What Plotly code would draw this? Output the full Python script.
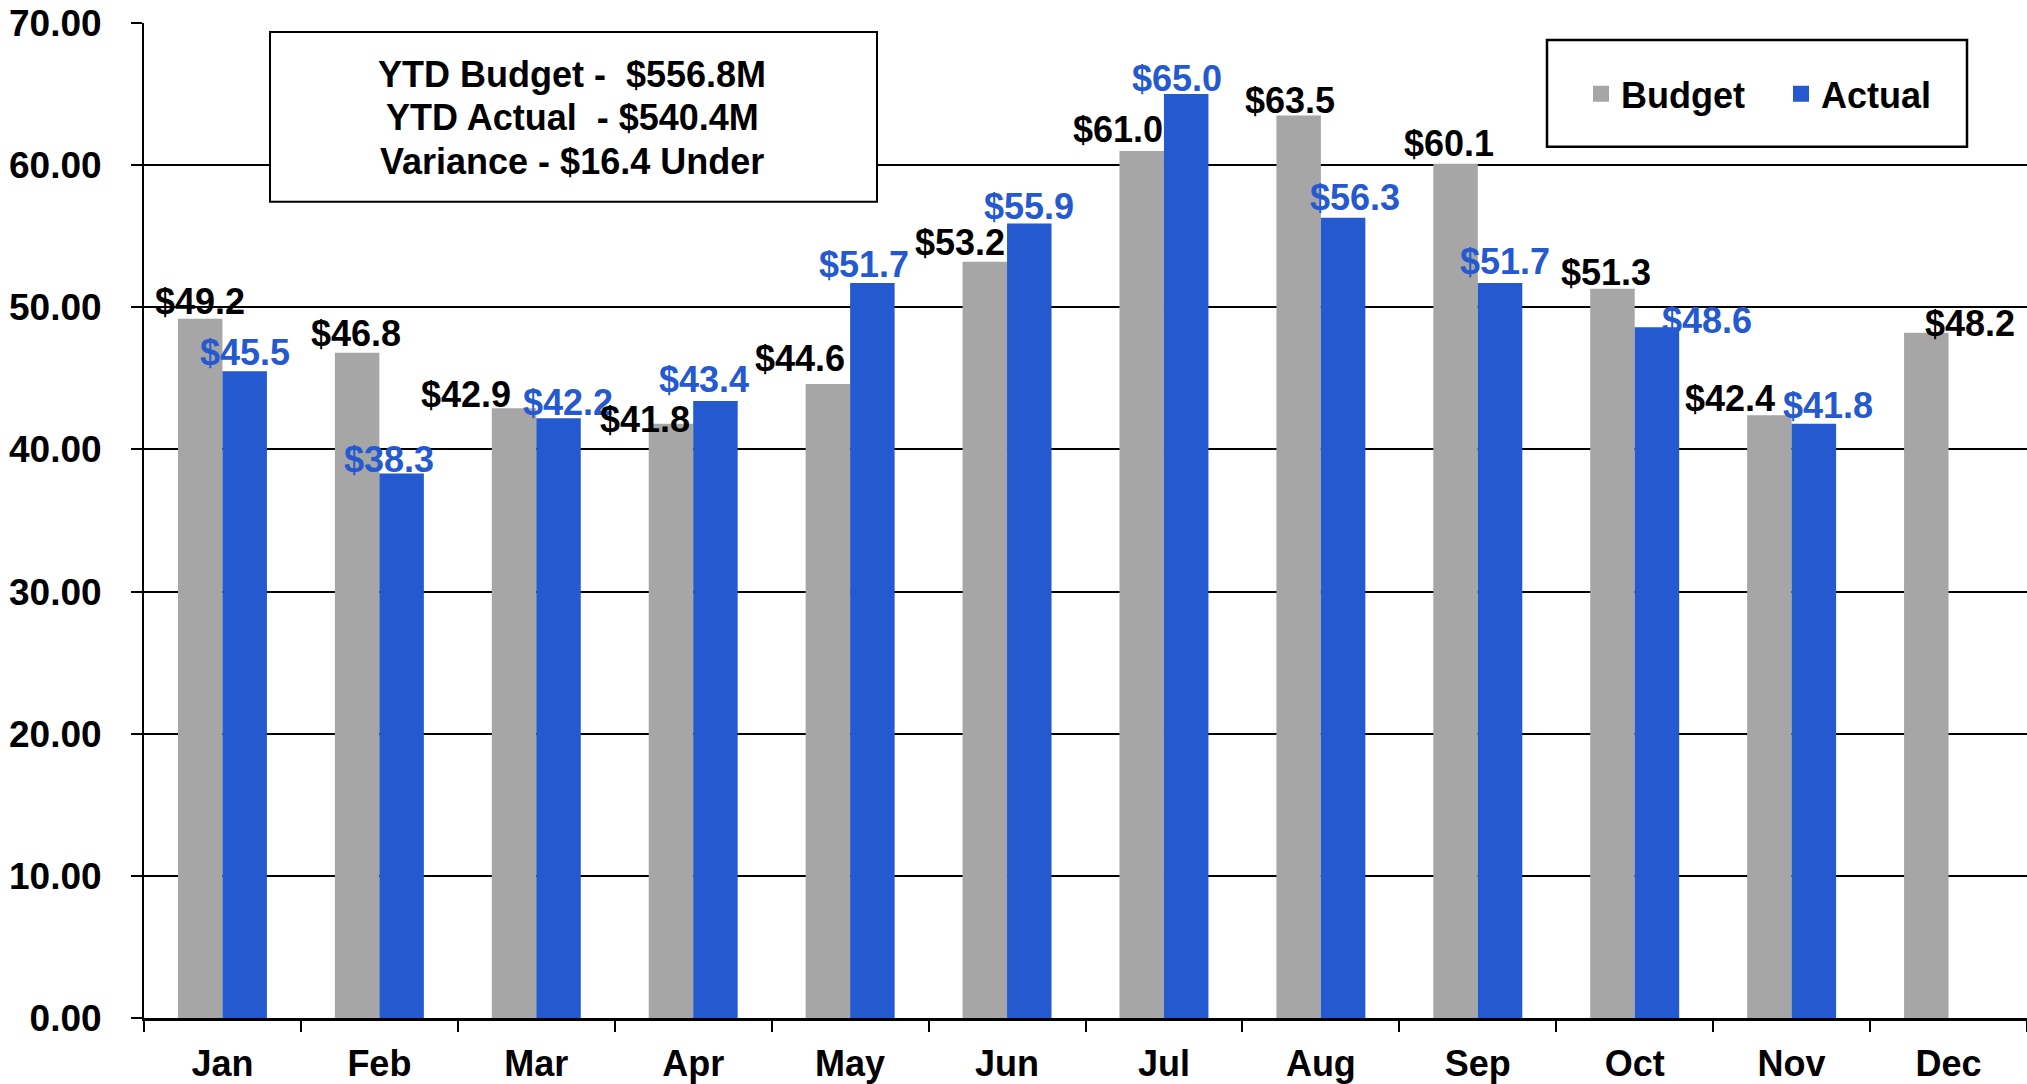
import plotly.graph_objects as go

months = ["Jan", "Feb", "Mar", "Apr", "May", "Jun", "Jul", "Aug", "Sep", "Oct", "Nov", "Dec"]
budget = [49.2, 46.8, 42.9, 41.8, 44.6, 53.2, 61.0, 63.5, 60.1, 51.3, 42.4, 48.2]
actual = [45.5, 38.3, 42.2, 43.4, 51.7, 55.9, 65.0, 56.3, 51.7, 48.6, 41.8, None]
y_ticks = [0, 10, 20, 30, 40, 50, 60, 70]
summary_lines = ["YTD Budget -  $556.8M", "YTD Actual  - $540.4M", "Variance - $16.4 Under"]

# label placement nudges (pixels, relative to a centered label just above each bar)
budget_label_dx = [0, -1, -48, -26, -28, -25, -24, -9, -7, -6, -39, 44]
budget_label_dy = [17, 19, 14, 4, 26, 19, 21, 15, 20, 16, 17, 9]
actual_label_dx = [0, -13, 9, -11, -8, 0, -9, 12, 5, 50, 14, 0]
actual_label_dy = [19, 14, 16, 22, 19, 17, 16, 20, 22, 7, 18, 0]

GRAY = "#A6A6A6"
BLUE = "#2459CF"
FONT = "Liberation Sans, Arial, sans-serif"

W, H = 2027, 1084
ML, MR, MT, MB = 144, 0, 23, 64
PW, PH = W - ML - MR, H - MT - MB
GAP = 0.433
BAR_OFFSET = PW / len(months) * (1 - GAP) / 4  # half a bar width, in px


def px(x):
    return (x - ML) / PW


def py(y):
    return (H - MB - y) / PH


def bfont(size, color="black"):
    return dict(family=FONT, size=size, color=color, weight="bold")


fig = go.Figure()
fig.add_trace(go.Bar(
    x=months, y=budget, name="Budget", marker=dict(color=GRAY, line=dict(width=0)),
    hoverinfo="x+y", showlegend=False, legendgroup="b",
))
fig.add_trace(go.Bar(
    x=months, y=actual, name="Actual", marker=dict(color=BLUE, line=dict(width=0)),
    hoverinfo="x+y", showlegend=False, legendgroup="a",
))
# legend entries with larger square keys
for name, color, grp in [("Budget", GRAY, "b"), ("Actual", BLUE, "a")]:
    fig.add_trace(go.Scatter(
        x=[None], y=[None], mode="markers", name=name, legendgroup=grp,
        marker=dict(symbol="square", size=16, color=color), hoverinfo="skip",
    ))

annotations = []
for i, m in enumerate(months):
    annotations.append(dict(
        x=m, y=budget[i], xref="x", yref="y", text=f"${budget[i]:.1f}", showarrow=False,
        xanchor="center", yanchor="middle", xshift=-BAR_OFFSET + budget_label_dx[i],
        yshift=budget_label_dy[i], font=bfont(36),
    ))
    if actual[i] is not None:
        annotations.append(dict(
            x=m, y=actual[i], xref="x", yref="y", text=f"${actual[i]:.1f}", showarrow=False,
            xanchor="center", yanchor="middle", xshift=BAR_OFFSET + actual_label_dx[i],
            yshift=actual_label_dy[i], font=bfont(36, BLUE),
        ))

for line, yc in zip(summary_lines, [75, 118, 162]):
    annotations.append(dict(
        xref="paper", yref="paper", x=px(572), y=py(yc), xanchor="center", yanchor="middle",
        text=line, showarrow=False, font=bfont(36),
    ))

fig.update_layout(
    width=W, height=H,
    margin=dict(l=ML, r=MR, t=MT, b=MB, pad=0),
    paper_bgcolor="white", plot_bgcolor="white",
    barmode="group", bargap=GAP, bargroupgap=0,
    font=bfont(36),
    showlegend=True,
    legend=dict(
        orientation="h", x=px(1581), y=py(94), xanchor="left", yanchor="middle",
        bgcolor="rgba(0,0,0,0)", borderwidth=0,
        font=bfont(36), itemwidth=30, itemsizing="trace",
        entrywidth=155, entrywidthmode="pixels",
    ),
    xaxis=dict(
        type="category", tickson="boundaries", ticks="outside", ticklen=11,
        tickcolor="black", tickwidth=2, showline=True, linecolor="black", linewidth=3,
        showgrid=False, tickfont=bfont(36), ticklabelstandoff=12,
        range=[-0.5, 11.5],
    ),
    yaxis=dict(
        range=[0, 70], tickvals=y_ticks, tickformat=".2f", ticks="outside", ticklen=11,
        tickcolor="black", tickwidth=2, showline=True, linecolor="black", linewidth=2,
        showgrid=True, gridcolor="black", gridwidth=1.6, zeroline=False,
        tickfont=bfont(37), ticklabelstandoff=22,
    ),
    shapes=[
        dict(type="rect", xref="paper", yref="paper", x0=px(270), x1=px(877), y0=py(202), y1=py(32),
             line=dict(color="black", width=2), fillcolor="white", layer="above"),
        dict(type="rect", xref="paper", yref="paper", x0=px(1547), x1=px(1967), y0=py(147), y1=py(40),
             line=dict(color="black", width=2.5), fillcolor="white", layer="below"),
    ],
    annotations=annotations,
)

fig.write_html("out.html", config={"displayModeBar": False},
               post_script="document.body.style.margin='0px';")
